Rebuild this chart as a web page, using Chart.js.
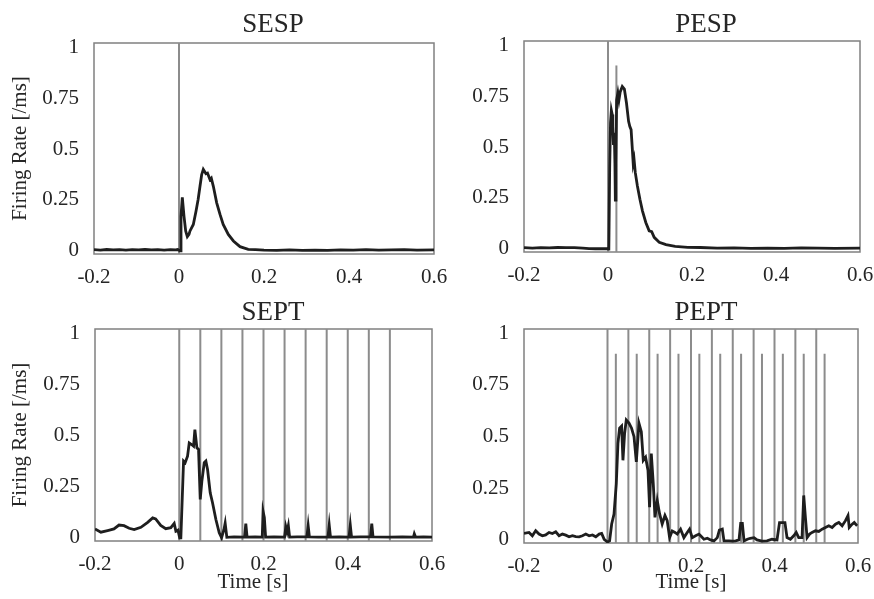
<!DOCTYPE html>
<html>
<head>
<meta charset="utf-8">
<script src="https://cdn.jsdelivr.net/npm/chart.js@4.4.0/dist/chart.umd.min.js"></script>
<style>
  html, body { margin: 0; padding: 0; background: #fff; }
  #wrap { position: relative; width: 874px; height: 599px; }
  #wrap canvas { position: absolute; left: 0; top: 0; }
</style>
</head>
<body>
<div id="wrap">
  <canvas id="sesp" width="874" height="599"></canvas>
  <canvas id="pesp" width="874" height="599"></canvas>
  <canvas id="sept" width="874" height="599"></canvas>
  <canvas id="pept" width="874" height="599"></canvas>
</div>
<script>
// axis ticks
const xTicks = [-0.2, 0, 0.2, 0.4, 0.6];
const yTicks = [0, 0.25, 0.5, 0.75, 1];

// SESP: single pulse
const sespTime = [
  -0.2, -0.185, -0.17, -0.155, -0.14, -0.125, -0.11, -0.095, -0.08, -0.065,
  -0.05, -0.035, -0.02, -0.008, -0.003, 0.0024, 0.0047, 0.0078, 0.0118, 0.0157,
  0.0196, 0.0235, 0.0259, 0.0337, 0.04, 0.045, 0.0494, 0.0533, 0.0572, 0.0635,
  0.067, 0.0729, 0.076, 0.0808, 0.0887, 0.0965, 0.104, 0.116, 0.128, 0.1435,
  0.163, 0.18, 0.2, 0.23, 0.26, 0.29, 0.32, 0.35, 0.38, 0.41,
  0.44, 0.47, 0.5, 0.53, 0.56, 0.6
];
const sespRate = [
  0.006, 0.004, 0.007, 0.005, 0.006, 0.004, 0.006, 0.005, 0.007, 0.005,
  0.006, 0.004, 0.006, 0.005, 0.007, 0.0, 0.17, 0.263, 0.17, 0.098,
  0.07, 0.081, 0.098, 0.13, 0.195, 0.252, 0.317, 0.374, 0.4, 0.379,
  0.382, 0.35, 0.357, 0.317, 0.236, 0.179, 0.13, 0.081, 0.049, 0.021,
  0.008, 0.006, 0.004, 0.003, 0.005, 0.003, 0.004, 0.003, 0.005, 0.004,
  0.006, 0.004, 0.005, 0.006, 0.004, 0.005
];

// PESP: paired pulse
const pespTime = [
  -0.2, -0.18, -0.16, -0.14, -0.12, -0.1, -0.08, -0.06, -0.045, -0.03,
  -0.015, -0.003, 0.002, 0.004, 0.006, 0.008, 0.01, 0.0115, 0.013, 0.015,
  0.0165, 0.0175, 0.019, 0.0205, 0.0235, 0.026, 0.029, 0.034, 0.039, 0.044,
  0.049, 0.052, 0.055, 0.0575, 0.06, 0.062, 0.065, 0.07, 0.076, 0.082,
  0.09, 0.098, 0.104, 0.11, 0.122, 0.138, 0.16, 0.19, 0.22, 0.26,
  0.3, 0.34, 0.38, 0.42, 0.46, 0.5, 0.54, 0.6
];
const pespRate = [
  0.006, 0.004, 0.006, 0.005, 0.007, 0.006, 0.006, 0.004, 0.002, 0.001,
  0.002, 0.001, 0.0, 0.4, 0.62, 0.68, 0.66, 0.6, 0.51, 0.57,
  0.42, 0.24, 0.42, 0.73, 0.765, 0.73, 0.77, 0.797, 0.784, 0.716,
  0.626, 0.6, 0.585, 0.504, 0.42, 0.44, 0.374, 0.309, 0.244, 0.187,
  0.13, 0.089, 0.085, 0.057, 0.033, 0.021, 0.013, 0.008, 0.007, 0.004,
  0.005, 0.003, 0.004, 0.003, 0.005, 0.004, 0.003, 0.004
];

// SEPT: single pulse train
const septTime = [
  -0.2, -0.186, -0.17, -0.155, -0.143, -0.131, -0.119, -0.107, -0.091, -0.075,
  -0.063, -0.056, -0.044, -0.032, -0.02, -0.012, -0.008, -0.003, 0.001, 0.0038,
  0.0102, 0.014, 0.0197, 0.0237, 0.0292, 0.034, 0.0371, 0.0419, 0.0458, 0.0498,
  0.0537, 0.0593, 0.0632, 0.0672, 0.0735, 0.079, 0.087, 0.0949, 0.1005, 0.106,
  0.109, 0.113, 0.13, 0.155, 0.158, 0.161, 0.18, 0.197, 0.199, 0.202,
  0.205, 0.225, 0.25, 0.253, 0.256, 0.259, 0.262, 0.28, 0.303, 0.306,
  0.309, 0.33, 0.353, 0.356, 0.359, 0.38, 0.403, 0.406, 0.409, 0.43,
  0.454, 0.457, 0.46, 0.5, 0.53, 0.556, 0.558, 0.561, 0.58, 0.6
];
const septRate = [
  0.044, 0.028, 0.036, 0.044, 0.063, 0.06, 0.047, 0.041, 0.052, 0.076,
  0.098, 0.093, 0.061, 0.045, 0.05, 0.071, 0.033, 0.038, 0.0, 0.0,
  0.375, 0.367, 0.399, 0.464, 0.456, 0.448, 0.529, 0.44, 0.432, 0.188,
  0.277, 0.367, 0.375, 0.334, 0.22, 0.172, 0.09, 0.025, 0.001, 0.04,
  0.072, 0.003, 0.005, 0.004, 0.07, 0.004, 0.005, 0.004, 0.13, 0.1,
  0.004, 0.005, 0.004, 0.055, 0.03, 0.06, 0.004, 0.005, 0.005, 0.06,
  0.005, 0.004, 0.004, 0.063, 0.004, 0.005, 0.004, 0.063, 0.004, 0.005,
  0.005, 0.07, 0.005, 0.004, 0.005, 0.004, 0.02, 0.004, 0.005, 0.004
];

// PEPT: paired pulse train
const peptTime = [
  -0.2, -0.188, -0.18, -0.172, -0.164, -0.156, -0.148, -0.14, -0.132, -0.124,
  -0.116, -0.108, -0.1, -0.092, -0.084, -0.076, -0.068, -0.06, -0.052, -0.044,
  -0.036, -0.028, -0.02, -0.014, -0.008, 0.0, 0.005, 0.01, 0.0156, 0.021,
  0.025, 0.029, 0.0338, 0.037, 0.041, 0.045, 0.0515, 0.0577, 0.0635, 0.069,
  0.0754, 0.081, 0.0857, 0.0912, 0.097, 0.1008, 0.1049, 0.1097, 0.1137, 0.1192,
  0.1247, 0.131, 0.1376, 0.143, 0.1487, 0.155, 0.1616, 0.167, 0.175, 0.183,
  0.191, 0.1965, 0.203, 0.211, 0.219, 0.223, 0.231, 0.239, 0.247, 0.255,
  0.263, 0.268, 0.275, 0.279, 0.291, 0.299, 0.307, 0.315, 0.319, 0.323,
  0.327, 0.335, 0.342, 0.351, 0.358, 0.37, 0.382, 0.394, 0.406, 0.412,
  0.425, 0.43, 0.438, 0.446, 0.452, 0.458, 0.466, 0.47, 0.474, 0.478,
  0.484, 0.49, 0.498, 0.506, 0.514, 0.522, 0.53, 0.538, 0.546, 0.554,
  0.562, 0.57, 0.576, 0.579, 0.586, 0.591, 0.598
];
const peptRate = [
  0.031, 0.036, 0.02, 0.044, 0.028, 0.02, 0.024, 0.036, 0.031, 0.039,
  0.02, 0.028, 0.023, 0.015, 0.02, 0.016, 0.015, 0.02, 0.028, 0.02,
  0.024, 0.015, 0.028, 0.031, 0.003, -0.01, -0.005, 0.077, 0.125, 0.27,
  0.467, 0.54, 0.55, 0.385, 0.516, 0.58, 0.565, 0.54, 0.499, 0.377,
  0.564, 0.523, 0.385, 0.4, 0.336, 0.158, 0.418, 0.27, 0.109, 0.19,
  0.127, 0.077, 0.118, 0.093, 0.011, 0.043, 0.036, 0.028, 0.052, 0.011,
  0.036, 0.052, 0.011, 0.02, 0.028, 0.02, 0.003, 0.008, 0.0, -0.005,
  0.011, 0.047, 0.052, -0.005, -0.005, -0.006, -0.005, 0.0, 0.08, 0.08,
  -0.005, 0.003, 0.008, 0.011, 0.0, -0.006, -0.005, 0.003, 0.0, 0.084,
  0.084, 0.011, 0.003, 0.02, 0.036, 0.011, 0.011, 0.215, 0.109, 0.011,
  0.028, 0.036, 0.044, 0.041, 0.052, 0.06, 0.068, 0.06, 0.076, 0.084,
  0.068, 0.093, 0.117, 0.06, 0.076, 0.084, 0.068
];

// stimulus times [s]
const singlePulse = [0];
const pairedFirst = [0];
const pairedSecond = [0.02];
const trainPulses = [0, 0.05, 0.1, 0.15, 0.2, 0.25, 0.3, 0.35, 0.4, 0.45, 0.5];
const trainSecond = [0.02, 0.07, 0.12, 0.17, 0.22, 0.27, 0.32, 0.37, 0.42, 0.47, 0.52];
const secondPulseHeight = 0.9;

const Y_MIN = -0.015, Y_MAX = 1.02;
const TEXT = '#262626';
Chart.defaults.font.family = '"Liberation Serif", "Times New Roman", serif';
Chart.defaults.color = TEXT;

// box around each plot area
const axisBox = {
  id: 'axisBox',
  beforeDatasetsDraw(chart) {
    const {ctx, chartArea: a} = chart;
    ctx.save();
    ctx.strokeStyle = '#808080';
    ctx.lineWidth = 1.5;
    ctx.strokeRect(a.left, a.top, a.right - a.left, a.bottom - a.top);
    ctx.restore();
  }
};

// panel title and x label
const panelText = {
  id: 'panelText',
  afterDraw(chart, args, opts) {
    const ctx = chart.ctx;
    ctx.save();
    ctx.fillStyle = TEXT;
    ctx.textAlign = 'center';
    ctx.textBaseline = 'alphabetic';
    (opts.items || []).forEach(it => {
      ctx.font = it.size + 'px "Liberation Serif"';
      ctx.fillText(it.text, it.x, it.y);
    });
    ctx.restore();
  }
};

function stimLines(times, top) {
  const pts = [];
  times.forEach(t => {
    pts.push({x: t, y: Y_MIN}, {x: t, y: top}, {x: t, y: null});
  });
  return pts;
}

function makePanel(id, cfg) {
  const a = cfg.area; // left, top, right, bottom
  const xH = 40;
  const trace = cfg.time.map((t, i) => ({x: t, y: cfg.rate[i]}));
  const datasets = [
    {data: trace, borderColor: '#1e1e1e', borderWidth: 2.8, pointRadius: 0, order: 0}
  ];
  datasets.push({data: stimLines(cfg.pulses, Y_MAX), borderColor: '#8c8c8c',
    borderWidth: 2, pointRadius: 0, spanGaps: false, order: 1});
  if (cfg.second) {
    datasets.push({data: stimLines(cfg.second, secondPulseHeight), borderColor: '#8c8c8c',
      borderWidth: 2, pointRadius: 0, spanGaps: false, order: 2});
  }

  return new Chart(document.getElementById(id), {
    type: 'line',
    data: { datasets: datasets },
    options: {
      responsive: false,
      animation: false,
      events: [],
      layout: { padding: { left: a[0] - cfg.yW, top: a[1], right: 874 - a[2], bottom: 599 - a[3] - xH } },
      plugins: {
        legend: { display: false },
        tooltip: { enabled: false },
        panelText: { items: cfg.texts }
      },
      scales: {
        x: {
          type: 'linear', min: -0.2, max: 0.6,
          grid: { display: false }, border: { display: false },
          afterBuildTicks: s => { s.ticks = xTicks.map(v => ({value: v})); },
          afterFit: s => { s.height = xH; s.paddingLeft = 0; s.paddingRight = 0; },
          ticks: { padding: 3, autoSkip: false, maxRotation: 0, font: { size: 21 }, callback: v => String(v) }
        },
        y: {
          min: Y_MIN, max: Y_MAX,
          grid: { display: false }, border: { display: false },
          afterBuildTicks: s => { s.ticks = yTicks.map(v => ({value: v})); },
          afterFit: s => { s.width = cfg.yW; s.paddingTop = 0; s.paddingBottom = 0; },
          ticks: { padding: 7, font: { size: 21 }, callback: v => String(v) },
          title: { display: cfg.yTitle, text: 'Firing Rate [/ms]', font: { size: 21 }, padding: { top: 8, bottom: 0 } }
        }
      }
    },
    plugins: [axisBox, panelText]
  });
}

makePanel('sesp', {
  area: [94, 43, 434, 254], yW: 94, yTitle: true,
  time: sespTime, rate: sespRate, pulses: singlePulse,
  texts: [{text: 'SESP', x: 273, y: 31.5, size: 27}]
});
makePanel('pesp', {
  area: [524, 41, 860, 252], yW: 94, yTitle: false,
  time: pespTime, rate: pespRate, pulses: pairedFirst, second: pairedSecond,
  texts: [{text: 'PESP', x: 706, y: 31.5, size: 27}]
});
makePanel('sept', {
  area: [95, 329, 432, 541], yW: 95, yTitle: true,
  time: septTime, rate: septRate, pulses: trainPulses,
  texts: [{text: 'SEPT', x: 273, y: 320, size: 27}, {text: 'Time [s]', x: 253, y: 588, size: 21}]
});
makePanel('pept', {
  area: [524, 329, 858, 543], yW: 94, yTitle: false,
  time: peptTime, rate: peptRate, pulses: trainPulses, second: trainSecond,
  texts: [{text: 'PEPT', x: 706, y: 320, size: 27}, {text: 'Time [s]', x: 691, y: 588, size: 21}]
});
</script>
</body>
</html>
